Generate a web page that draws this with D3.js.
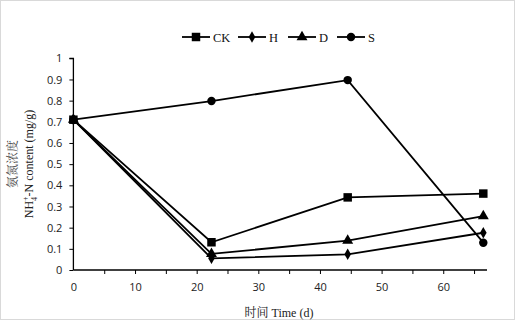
<!DOCTYPE html>
<html>
<head>
<meta charset="utf-8">
<script src="https://cdn.jsdelivr.net/npm/d3@7"></script>
<style>
  body { margin: 0; background: #fff; }
  svg { display: block; }
</style>
</head>
<body>
<div id="chart"></div>
<script>
// data
var days = [0, 22.4, 44.5, 66.5];
var seriesNames = ["CK", "H", "D", "S"];
var ckValues = [0.71, 0.131, 0.343, 0.361];
var hValues = [0.71, 0.055, 0.074, 0.176];
var dValues = [0.71, 0.076, 0.139, 0.255];
var sValues = [0.71, 0.798, 0.897, 0.129];
var yTicks = [0, 0.1, 0.2, 0.3, 0.4, 0.5, 0.6, 0.7, 0.8, 0.9, 1];
var xTicks = [0, 10, 20, 30, 40, 50, 60];

var _width = 519, _height = 325;
var margin = {top: 58.3, right: 32, bottom: 55, left: 73.4};
var plotW = 487 - margin.left, plotH = 270 - margin.top;

var svg = d3.select("#chart").append("svg")
  .attr("width", _width)
  .attr("height", _height);

// outer frame
svg.append("rect")
  .attr("x", 0.5).attr("y", 0.5)
  .attr("width", 514).attr("height", 319)
  .attr("fill", "#fff").attr("stroke", "#d9d9d9");

var g = svg.append("g")
  .attr("transform", "translate(" + margin.left + "," + margin.top + ")");

var x = d3.scaleLinear().domain([0, 67.1]).range([0, plotW]);
var y = d3.scaleLinear().domain([0, 1]).range([plotH, 0]);

var tickFont = "'Open Sans', 'Liberation Sans', sans-serif";
var serif = "'Liberation Serif', 'Noto Serif CJK SC', serif";

// y axis
var yAxis = g.append("g")
  .call(d3.axisLeft(y).tickValues(yTicks).tickSize(4).tickPadding(7)
    .tickFormat(function(d) { return d3.format("")(+d.toFixed(1)); }));
// x axis, minor ticks every 5
var xAxis = g.append("g")
  .attr("transform", "translate(0," + plotH + ")")
  .call(d3.axisBottom(x).tickValues(d3.range(0, 66, 5)).tickSize(4).tickPadding(9)
    .tickFormat(function(d) { return xTicks.indexOf(d) >= 0 ? d : ""; }));

[yAxis, xAxis].forEach(function(a) {
  a.select(".domain").attr("stroke", "#000").attr("stroke-width", 1.3)
    .attr("d", a === yAxis ? "M-4,0H0V" + plotH : "M0,0H" + plotW);
  a.selectAll(".tick line").attr("stroke", "#000").attr("stroke-width", 1);
  a.selectAll("text").attr("font-family", tickFont).attr("font-size", 11).attr("fill", "#222");
});
xAxis.selectAll(".tick").filter(function(d) { return d === 0; }).select("line").remove();

// lines and markers
var allSeries = [ckValues, hValues, dValues, sValues].map(function(v, i) {
  return {name: seriesNames[i], values: v.map(function(d, j) { return {x: days[j], y: d}; })};
});
var symbols = {
  CK: d3.symbol().type(d3.symbolSquare).size(72),
  H: d3.symbol().type(d3.symbolDiamond).size(38),
  D: d3.symbol().type(d3.symbolTriangle).size(52),
  S: d3.symbol().type(d3.symbolCircle).size(56)
};

var line = d3.line()
  .x(function(d) { return x(d.x); })
  .y(function(d) { return y(d.y); });

var sg = g.selectAll(".series").data(allSeries.slice().reverse()).enter()
  .append("g").attr("class", "series");
sg.append("path")
  .attr("d", function(d) { return line(d.values); })
  .attr("fill", "none").attr("stroke", "#000").attr("stroke-width", 1.8);
sg.selectAll(".pt").data(function(d) { return d.values.map(function(v) { return {s: d.name, x: v.x, y: v.y}; }); })
  .enter().append("path")
  .attr("transform", function(d) { return "translate(" + x(d.x) + "," + y(d.y) + ")"; })
  .attr("d", function(d) { return symbols[d.s](); })
  .attr("fill", "#000");

// legend
var legendX = [182, 238, 288, 337];
var lg = svg.selectAll(".leg").data(seriesNames).enter()
  .append("g").attr("transform", function(d, i) { return "translate(" + legendX[i] + ",37)"; });
lg.append("line").attr("x1", 0).attr("x2", 28).attr("stroke", "#000").attr("stroke-width", 1.8);
lg.append("path").attr("transform", "translate(14,0)")
  .attr("d", function(d) { return symbols[d](); }).attr("fill", "#000");
lg.append("text").attr("x", 31).attr("y", 4.5)
  .attr("font-family", serif).attr("font-size", 12.5).attr("fill", "#111")
  .text(function(d) { return d; });

// axis titles
svg.append("text")
  .attr("x", 279).attr("y", 317)
  .attr("text-anchor", "middle")
  .attr("font-family", serif).attr("font-size", 12).attr("fill", "#222")
  .text("时间 Time (d)");

var yl = svg.append("g").attr("transform", "translate(0,164) rotate(-90)");
yl.append("text")
  .attr("x", 0).attr("y", 17)
  .attr("text-anchor", "middle")
  .attr("font-family", serif).attr("font-size", 12).attr("fill", "#444")
  .text("氨氮浓度");
var t2 = yl.append("text")
  .attr("x", 0).attr("y", 33)
  .attr("text-anchor", "middle")
  .attr("font-family", serif).attr("font-size", 12).attr("fill", "#222");
t2.append("tspan").text("NH");
t2.append("tspan").attr("font-size", 8).attr("dy", 4).text("4");
t2.append("tspan").attr("font-size", 8).attr("dx", -4).attr("dy", -9).text("+");
t2.append("tspan").attr("dy", 5).text("-N content (mg/g)");
</script>
</body>
</html>
